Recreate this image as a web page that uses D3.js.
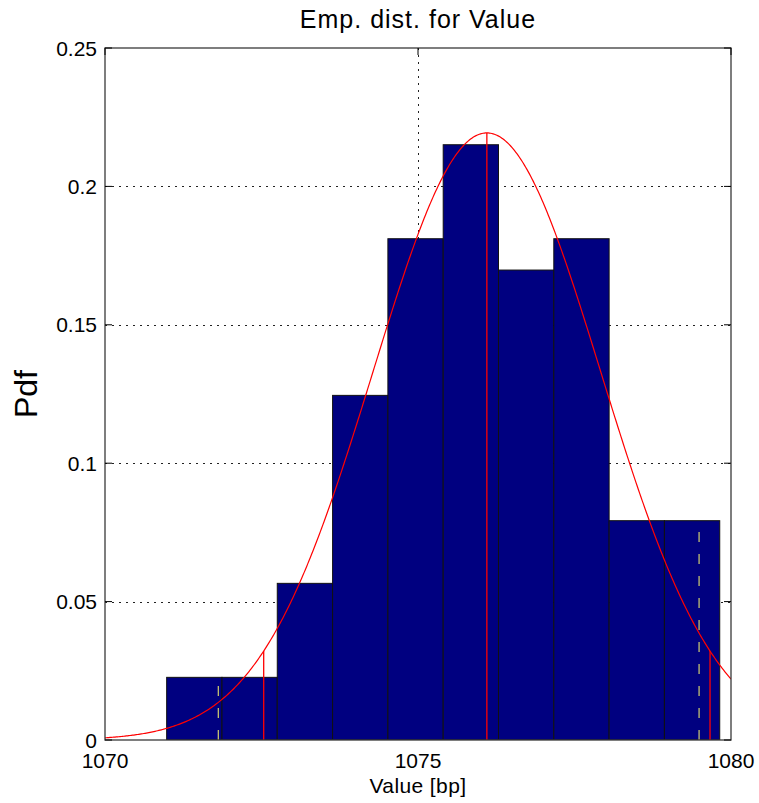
<!DOCTYPE html>
<html>
<head>
<meta charset="utf-8">
<script src="https://cdn.jsdelivr.net/npm/d3@7"></script>
<style>
  html, body { margin: 0; padding: 0; background: #fff; }
  svg text { font-family: Arial, "Liberation Sans", sans-serif; fill: #000; }
</style>
</head>
<body>
<svg id="chart" width="759" height="803"></svg>
<script>
// Histogram of the sample (100 observations, 10 equal-width bins)
const binStart = 1070.985;
const binWidth = 0.8835;
const binCounts = [2, 2, 5, 11, 16, 19, 15, 16, 7, 7];
const sampleSize = 100;

// Fitted normal distribution
const fitMean = 1076.10;
const fitSigma = 1.819;
const fitInterval = [1072.535, 1079.665];   // mean ± 1.96 sigma

// Empirical 2.5% / 97.5% quantiles
const empQuantiles = [1071.81, 1079.49];

// Axis ticks
const xTicks = [1070, 1075, 1080];
const yTicks = [0, 0.05, 0.1, 0.15, 0.2, 0.25];
const yTickLabels = ["0", "0.05", "0.1", "0.15", "0.2", "0.25"];

const W = 759, H = 803;
const margin = { left: 105, top: 48, right: 28, bottom: 63 };
const iw = W - margin.left - margin.right;
const ih = H - margin.top - margin.bottom;

const svg = d3.select("#chart");
const x = d3.scaleLinear().domain([1070, 1080]).range([0, iw]);
const y = d3.scaleLinear().domain([0, 0.25]).range([ih, 0]);

const bins = binCounts.map((c, i) => ({
  x0: binStart + i * binWidth,
  x1: binStart + (i + 1) * binWidth,
  density: c / (sampleSize * binWidth)
}));
const densityAt = v => {
  const b = bins.find(b => v >= b.x0 && v < b.x1);
  return b ? b.density : 0;
};
const pdf = v => Math.exp(-0.5 * ((v - fitMean) / fitSigma) ** 2) / (fitSigma * Math.sqrt(2 * Math.PI));

svg.append("defs").append("clipPath").attr("id", "plotClip")
  .append("rect").attr("width", iw).attr("height", ih);

const g = svg.append("g").attr("transform", `translate(${margin.left},${margin.top})`);

// Dotted grid
const grid = g.append("g").attr("stroke", "#222").attr("stroke-width", 1)
  .attr("stroke-dasharray", "1.5,5.5").attr("shape-rendering", "crispEdges");
grid.selectAll("line.gx").data(xTicks.slice(1, -1)).join("line")
  .attr("x1", d => Math.round(x(d)) + 0.5).attr("x2", d => Math.round(x(d)) + 0.5)
  .attr("y1", 0).attr("y2", ih);
grid.selectAll("line.gy").data(yTicks.slice(1, -1)).join("line")
  .attr("y1", d => Math.round(y(d)) + 0.5).attr("y2", d => Math.round(y(d)) + 0.5)
  .attr("x1", 0).attr("x2", iw);

const plot = g.append("g").attr("clip-path", "url(#plotClip)");

// Histogram bars
plot.selectAll("rect.bar").data(bins).join("rect")
  .attr("class", "bar")
  .attr("x", d => x(d.x0)).attr("width", d => x(d.x1) - x(d.x0))
  .attr("y", d => y(d.density)).attr("height", d => y(0) - y(d.density))
  .attr("fill", "#000080").attr("stroke", "#111").attr("stroke-width", 1);

// Empirical quantile markers
plot.selectAll("line.q").data(empQuantiles).join("line")
  .attr("x1", d => x(d)).attr("x2", d => x(d))
  .attr("y1", y(0)).attr("y2", d => y(densityAt(d)))
  .attr("stroke", "#d2d070").attr("stroke-width", 1.2)
  .attr("stroke-dasharray", "10,12");

// Fitted normal density
const curveX = d3.range(1070, 1080.0001, 0.02);
plot.append("path")
  .attr("d", d3.line().x(v => x(v)).y(v => y(pdf(v)))(curveX))
  .attr("fill", "none").attr("stroke", "#ff0000").attr("stroke-width", 1.2);

// Mean and interval markers
plot.selectAll("line.m").data([fitInterval[0], fitMean, fitInterval[1]]).join("line")
  .attr("x1", d => x(d)).attr("x2", d => x(d))
  .attr("y1", y(0)).attr("y2", d => y(pdf(d)))
  .attr("stroke", "#ff0000").attr("stroke-width", 1.3);

// Axes box
g.append("rect").attr("width", iw).attr("height", ih)
  .attr("fill", "none").attr("stroke", "#3a3a3a").attr("stroke-width", 1.3);

// Inward tick marks
const tickLen = 7;
const ticks = g.append("g").attr("stroke", "#000").attr("stroke-width", 1);
yTicks.forEach(t => {
  ticks.append("line").attr("x1", 0).attr("x2", tickLen).attr("y1", y(t)).attr("y2", y(t));
  ticks.append("line").attr("x1", iw - tickLen).attr("x2", iw).attr("y1", y(t)).attr("y2", y(t));
});
xTicks.forEach(t => {
  ticks.append("line").attr("x1", x(t)).attr("x2", x(t)).attr("y1", 0).attr("y2", tickLen);
});

// Tick labels
g.selectAll("text.yt").data(yTicks).join("text")
  .attr("x", -8).attr("y", d => y(d)).attr("dy", "0.36em")
  .attr("text-anchor", "end").attr("font-size", 21)
  .text((d, i) => yTickLabels[i]);
g.selectAll("text.xt").data(xTicks).join("text")
  .attr("x", d => x(d)).attr("y", ih + 28)
  .attr("text-anchor", "middle").attr("font-size", 21)
  .text(d => d);

// Titles
svg.append("text").attr("x", margin.left + iw / 2).attr("y", 28)
  .attr("text-anchor", "middle").attr("font-size", 25).attr("letter-spacing", 1)
  .text("Emp. dist. for Value");
svg.append("text").attr("x", margin.left + iw / 2).attr("y", 793)
  .attr("text-anchor", "middle").attr("font-size", 21).attr("letter-spacing", 0.4)
  .text("Value [bp]");
svg.append("text").attr("transform", "translate(37,394) rotate(-90)")
  .attr("text-anchor", "middle").attr("font-size", 32)
  .text("Pdf");
</script>
</body>
</html>
